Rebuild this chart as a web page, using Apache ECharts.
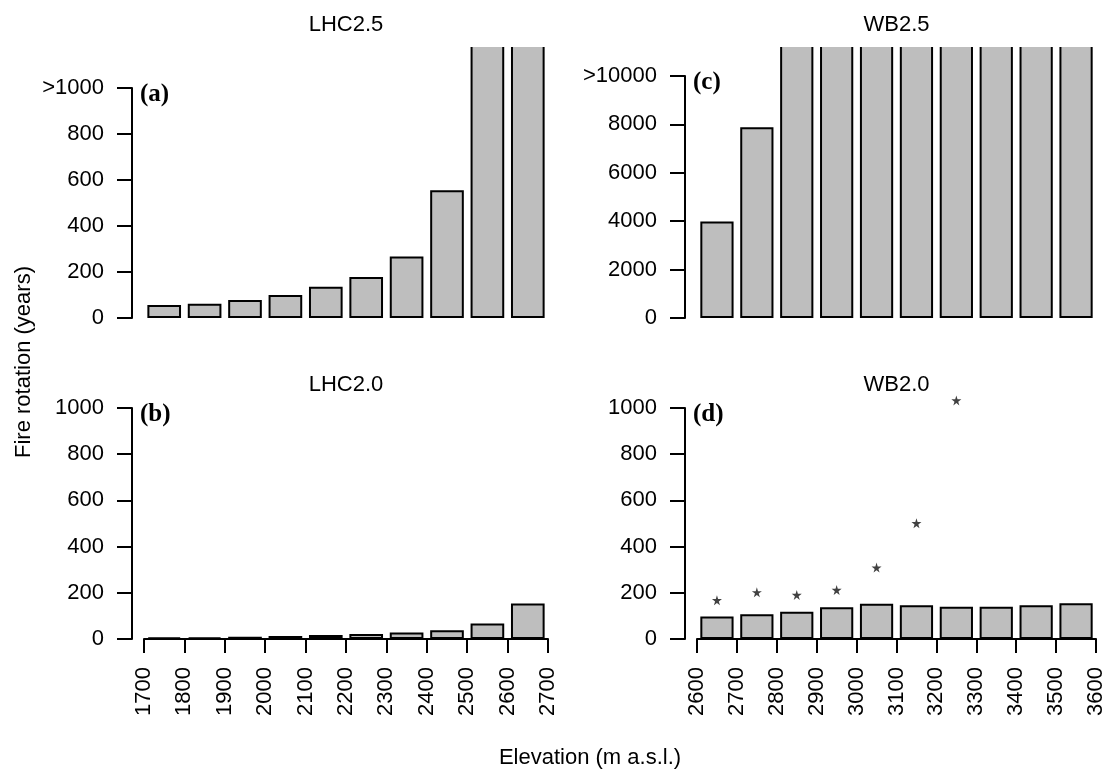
<!DOCTYPE html>
<html>
<head>
<meta charset="utf-8">
<script src="https://cdn.jsdelivr.net/npm/echarts@6/dist/echarts.min.js"></script>
<style>
html,body{margin:0;padding:0;background:#fff;}
#chart{width:1115px;height:769px;}
</style>
</head>
<body>
<div id="chart"></div>
<script>
// ---------------- data ----------------
const elevLHC = [1700, 1800, 1900, 2000, 2100, 2200, 2300, 2400, 2500, 2600, 2700]; // bin edges
const elevWB  = [2600, 2700, 2800, 2900, 3000, 3100, 3200, 3300, 3400, 3500, 3600]; // bin edges
const binsLHC = ['1700-1800','1800-1900','1900-2000','2000-2100','2100-2200','2200-2300','2300-2400','2400-2500','2500-2600','2600-2700'];
const binsWB  = ['2600-2700','2700-2800','2800-2900','2900-3000','3000-3100','3100-3200','3200-3300','3300-3400','3400-3500','3500-3600'];
// fire rotation (years); '>' marks off-scale values (drawn clipped at panel top)
const lhc25 = [56, 62, 78, 100, 136, 178, 267, 555, '>1000', '>1000'];
const wb25  = [3990, 7880, '>10000', '>10000', '>10000', '>10000', '>10000', '>10000', '>10000', '>10000'];
const lhc20 = [7, 7, 10, 13, 17, 22, 28, 38, 67, 154];
const wb20  = [97, 107, 118, 137, 153, 146, 140, 140, 146, 155];
const wb20star = [168, 202, 191, 212, 309, 501, 1033, null, null, null];
const yTicksSmall = [0, 1000, 200];   // min, max, interval
const yTicksLarge = [0, 10000, 2000];

// ---------------- layout ----------------
const FONT = '"Liberation Sans", Arial, Helvetica, sans-serif';
const SERIF = '"Liberation Serif", "Times New Roman", serif';
const CLIPTOP = 48; // visible top edge of off-scale bars in top panels
const panels = [
  {key:'a', left:144, width:404, plotTop:40,  axisTop:88,  bottom:318, yt:yTicksSmall, top:'>1000', cats:binsLHC, vals:lhc25, edges:elevLHC, showX:false, title:'LHC2.5', titleY:25},
  {key:'c', left:697, width:399, plotTop:40,  axisTop:76,  bottom:318, yt:yTicksLarge, top:'>10000', cats:binsWB, vals:wb25, edges:elevWB, showX:false, title:'WB2.5', titleY:25},
  {key:'b', left:144, width:404, plotTop:378, axisTop:408, bottom:639, yt:yTicksSmall, top:null, cats:binsLHC, vals:lhc20, edges:elevLHC, showX:true, title:'LHC2.0', titleY:385},
  {key:'d', left:697, width:399, plotTop:378, axisTop:408, bottom:639, yt:yTicksSmall, top:null, cats:binsWB, vals:wb20, edges:elevWB, showX:true, title:'WB2.0', titleY:385, stars:wb20star}
];

const grid = [], xAxis = [], yAxis = [], series = [], graphic = [];
panels.forEach((p) => {
  const gPlot = grid.length;
  grid.push({left:p.left, width:p.width, top:p.plotTop, height:p.bottom - p.plotTop, containLabel:false});
  const gAxis = grid.length;
  grid.push({left:p.left, width:p.width, top:p.axisTop, height:p.bottom - p.axisTop, containLabel:false});

  const axisMax = p.yt[1];
  const plotMax = axisMax * (p.bottom - p.plotTop) / (p.bottom - p.axisTop);

  const xPlot = xAxis.length;
  xAxis.push({gridIndex:gPlot, type:'category', data:p.cats, show:false, boundaryGap:true});
  const yPlot = yAxis.length;
  yAxis.push({gridIndex:gPlot, type:'value', min:0, max:plotMax, show:false});

  xAxis.push({
    gridIndex:gAxis, type:'value', min:p.edges[0], max:p.edges[p.edges.length-1], interval:100,
    show:p.showX, position:'bottom',
    axisLine:{show:true, lineStyle:{color:'#000', width:2}},
    axisTick:{show:true, length:14, inside:false, lineStyle:{color:'#000', width:2}},
    axisLabel:{show:true, rotate:90, margin:28, color:'#000', fontFamily:FONT, fontSize:22, formatter:v => String(v)},
    splitLine:{show:false}
  });
  yAxis.push({
    gridIndex:gAxis, type:'value', min:p.yt[0], max:p.yt[1], interval:p.yt[2], offset:12,
    axisLine:{show:true, lineStyle:{color:'#000', width:2}},
    axisTick:{show:true, length:15, inside:false, lineStyle:{color:'#000', width:2}},
    axisLabel:{show:true, margin:28, color:'#000', fontFamily:FONT, fontSize:22,
      formatter:v => (p.top && v === axisMax) ? p.top : String(v)},
    splitLine:{show:false}
  });

  series.push({
    type:'bar', xAxisIndex:xPlot, yAxisIndex:yPlot, clip:true,
    barCategoryGap:'16.7%',
    data:p.vals.map(v => (typeof v === 'string') ? plotMax * 1.5 : v),
    itemStyle:{color:'#bebebe', borderColor:'#000', borderWidth:2},
    emphasis:{disabled:true}, animation:false, silent:true
  });
  if (p.stars) {
    series.push({
      type:'scatter', xAxisIndex:xPlot, yAxisIndex:yPlot, clip:false,
      data:p.stars.map((v, k) => [k, v]).filter(d => d[1] !== null),
      symbol:'path://M50,0 L61,35 L98,35 L68,57 L79,91 L50,70 L21,91 L32,57 L2,35 L39,35 Z',
      symbolSize:10, itemStyle:{color:'#111'}, animation:false, silent:true
    });
  }

  // mask above the clip line so off-scale bars appear open-topped
  if (p.plotTop < CLIPTOP) {
    graphic.push({type:'rect', silent:true, z:100, shape:{x:p.left - 4, y:p.plotTop - 4, width:p.width + 8, height:CLIPTOP - p.plotTop + 3},
      style:{fill:'#fff'}});
  }
  graphic.push({type:'text', silent:true, z:110, style:{
    text:p.title, x:p.left + p.width/2, y:p.titleY,
    align:'center', verticalAlign:'middle', font:'22px ' + FONT, fill:'#000'}});
  graphic.push({type:'text', silent:true, z:110, style:{
    text:'(' + p.key + ')', x:p.left - 4, y:p.axisTop + 7,
    align:'left', verticalAlign:'middle', font:'bold 25px ' + SERIF, fill:'#000'}});
});

graphic.push({type:'text', silent:true, x:24, y:362, rotation:Math.PI/2, style:{
  text:'Fire rotation (years)', x:0, y:0, align:'center', verticalAlign:'middle', font:'22px ' + FONT, fill:'#000'}});
graphic.push({type:'text', silent:true, style:{
  text:'Elevation (m a.s.l.)', x:590, y:758, align:'center', verticalAlign:'middle', font:'22px ' + FONT, fill:'#000'}});

const chart = echarts.init(document.getElementById('chart'), null, {renderer:'canvas'});
chart.setOption({
  backgroundColor:'#fff',
  animation:false,
  grid, xAxis, yAxis, series, graphic
});
</script>
</body>
</html>
